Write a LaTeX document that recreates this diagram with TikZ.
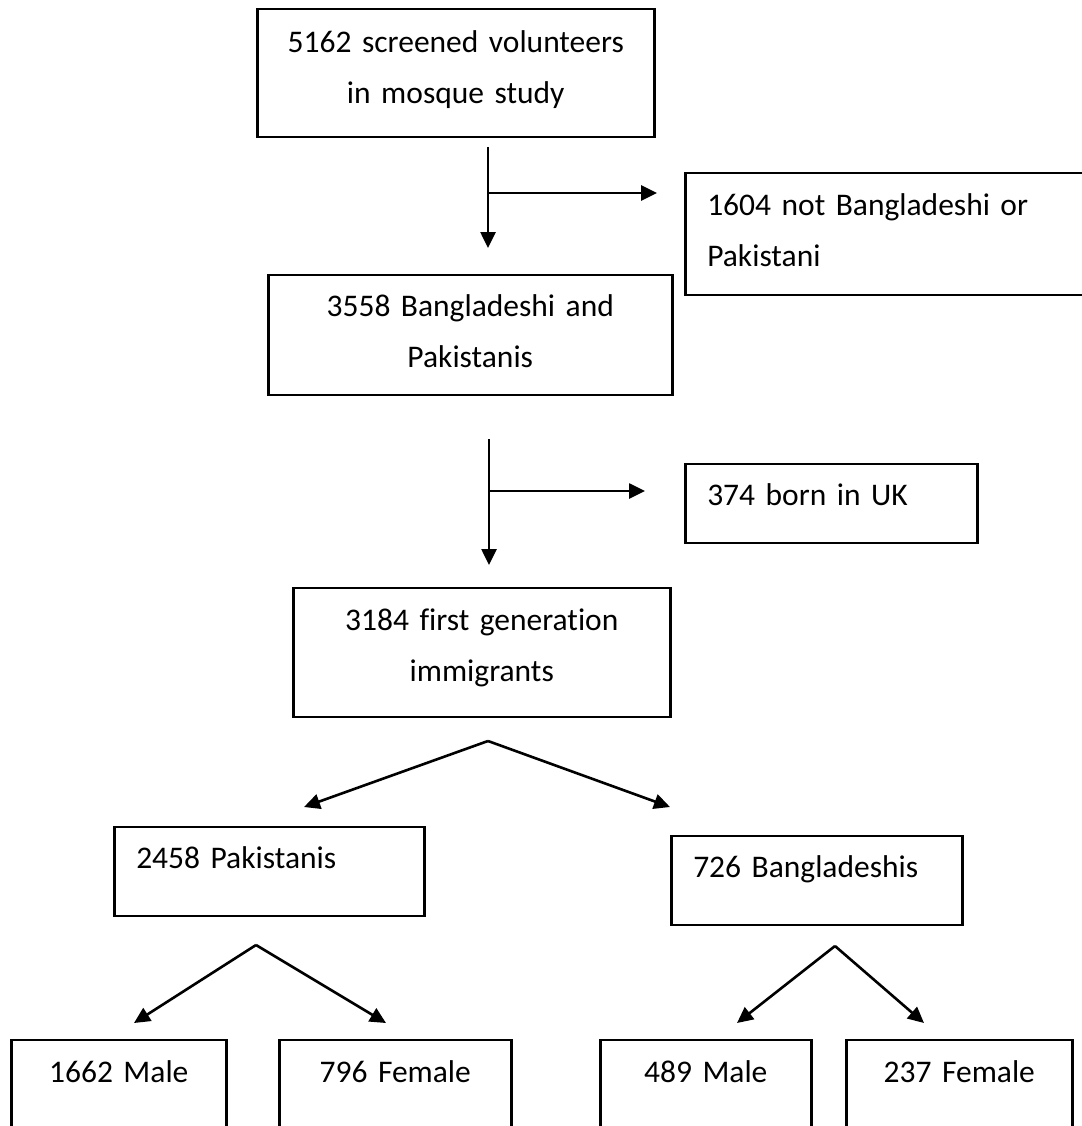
\documentclass[tikz,border=0pt]{standalone}
\usepackage{fontspec}
\setmainfont{Carlito}[Ligatures=NoCommon]
\usetikzlibrary{arrows.meta}

\begin{document}
\begin{tikzpicture}[x=1pt,y=-1pt,
  box/.style={draw,line width=2.5pt,inner ysep=0pt,anchor=base west,font=\fontsize{31.5}{51}\selectfont},
  mid/.style={box,inner xsep=0pt,align=center},
  lft/.style={box,inner xsep=22pt,align=left},
  arr/.style={line width=2.6pt,-{Triangle[length=16pt,width=15pt]}}]
\path[use as bounding box,fill=white] (0,0) rectangle (1081,1126);

\node[mid,text width=397pt,text height=44pt,text depth=84pt] (screened) at (256,53) {5162 screened volunteers\\in mosque study};
\node[lft,text width=382pt,text height=42pt,text depth=80pt] (notbp) at (684,215) {1604 not Bangladeshi or\\Pakistani};
\node[mid,text width=404pt,text height=41pt,text depth=79pt] (bangpak) at (267,316) {3558 Bangladeshi and\\Pakistanis};
\node[lft,text width=248pt,text height=41pt,text depth=38pt] (ukborn) at (684,505) {374 born in UK};
\node[mid,text width=377pt,text height=42pt,text depth=87pt] (firstgen) at (292,630) {3184 first generation\\immigrants};
\node[lft,text width=266pt,text height=41pt,text depth=48pt] (pakis) at (113,868) {2458 Pakistanis};
\node[lft,text width=247pt,text height=41pt,text depth=48pt] (bangs) at (670,877) {726 Bangladeshis};
\node[mid,text width=215pt,text height=42pt,text depth=100pt] (pmale) at (10,1082) {1662 Male};
\node[mid,text width=232pt,text height=42pt,text depth=100pt] (pfemale) at (278,1082) {796 Female};
\node[mid,text width=211pt,text height=42pt,text depth=100pt] (bmale) at (599,1082) {489 Male};
\node[mid,text width=226pt,text height=42pt,text depth=100pt] (bfemale) at (845,1082) {237 Female};

\coordinate (s1) at (488,147);
\coordinate (e1) at (488,248);
\coordinate (k1) at (488,193);
\coordinate (x1) at (657,193);
\coordinate (s2) at (489,439);
\coordinate (e2) at (489,565);
\coordinate (k2) at (489,491);
\coordinate (x2) at (645,491);
\coordinate (top1) at (488,741);
\coordinate (l1) at (304,807);
\coordinate (r1) at (670,807);
\coordinate (top2) at (256,945);
\coordinate (l2) at (134,1023);
\coordinate (r2) at (386,1023);
\coordinate (top3) at (835,946);
\coordinate (l3) at (737,1023);
\coordinate (r3) at (924,1023);

\draw[arr] (s1) -- (e1);
\draw[arr] (k1) -- (x1);
\draw[arr] (s2) -- (e2);
\draw[arr] (k2) -- (x2);
\draw[arr] (top1) -- (l1);
\draw[arr] (top1) -- (r1);
\draw[arr] (top2) -- (l2);
\draw[arr] (top2) -- (r2);
\draw[arr] (top3) -- (l3);
\draw[arr] (top3) -- (r3);
\end{tikzpicture}
\end{document}
